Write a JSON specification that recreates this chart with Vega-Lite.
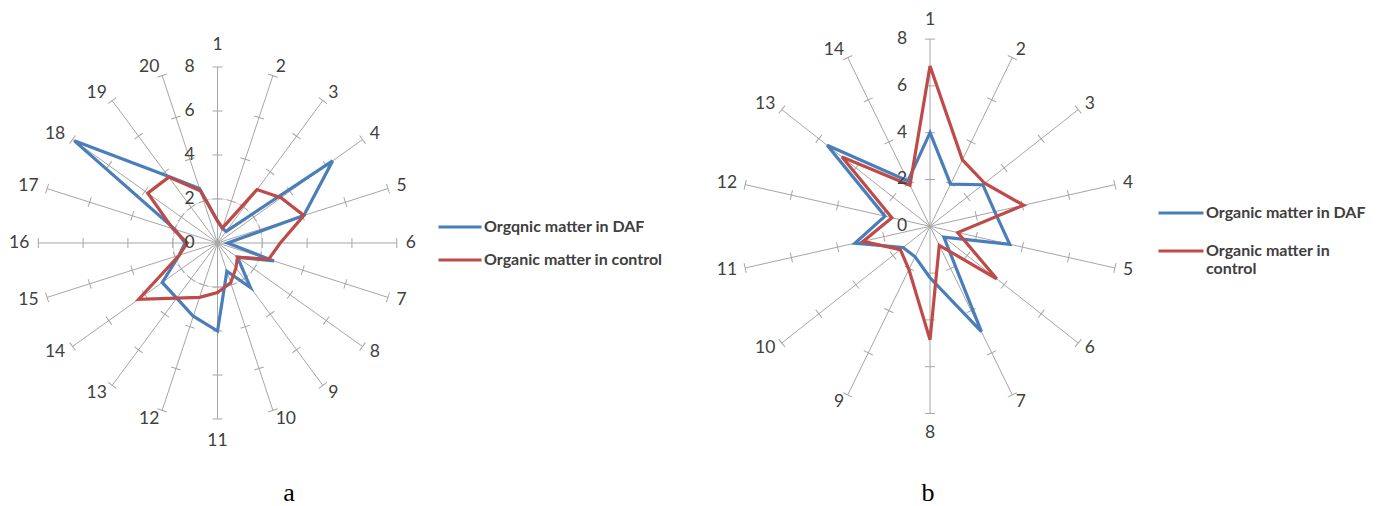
{
  "$schema": "https://vega.github.io/schema/vega-lite/v6.json",
  "padding": 0,
  "background": "white",
  "bounds": "flush",
  "spacing": 0,
  "config": {"view": {"stroke": null}, "font": "Lato"},
  "datasets": {
    "grid": [{"r": 2}],
    "scale_lbl": [{"value": 0}, {"value": 2}, {"value": 4}, {"value": 6}, {"value": 8}],
    "a_axes": [
      {"axis": 1, "ticks": [2, 4, 6, 8]}, {"axis": 2, "ticks": [2, 4, 6, 8]}, {"axis": 3, "ticks": [2, 4, 6, 8]}, {"axis": 4, "ticks": [2, 4, 6, 8]},
      {"axis": 5, "ticks": [2, 4, 6, 8]}, {"axis": 6, "ticks": [2, 4, 6, 8]}, {"axis": 7, "ticks": [2, 4, 6, 8]}, {"axis": 8, "ticks": [2, 4, 6, 8]},
      {"axis": 9, "ticks": [2, 4, 6, 8]}, {"axis": 10, "ticks": [2, 4, 6, 8]}, {"axis": 11, "ticks": [2, 4, 6, 8]}, {"axis": 12, "ticks": [2, 4, 6, 8]},
      {"axis": 13, "ticks": [2, 4, 6, 8]}, {"axis": 14, "ticks": [2, 4, 6, 8]}, {"axis": 15, "ticks": [2, 4, 6, 8]}, {"axis": 16, "ticks": [2, 4, 6, 8]},
      {"axis": 17, "ticks": [2, 4, 6, 8]}, {"axis": 18, "ticks": [2, 4, 6, 8]}, {"axis": 19, "ticks": [2, 4, 6, 8]}, {"axis": 20, "ticks": [2, 4, 6, 8]}
    ],
    "b_axes": [
      {"axis": 1, "ticks": [2, 4, 6, 8]}, {"axis": 2, "ticks": [2, 4, 6, 8]}, {"axis": 3, "ticks": [2, 4, 6, 8]}, {"axis": 4, "ticks": [2, 4, 6, 8]},
      {"axis": 5, "ticks": [2, 4, 6, 8]}, {"axis": 6, "ticks": [2, 4, 6, 8]}, {"axis": 7, "ticks": [2, 4, 6, 8]}, {"axis": 8, "ticks": [2, 4, 6, 8]},
      {"axis": 9, "ticks": [2, 4, 6, 8]}, {"axis": 10, "ticks": [2, 4, 6, 8]}, {"axis": 11, "ticks": [2, 4, 6, 8]}, {"axis": 12, "ticks": [2, 4, 6, 8]},
      {"axis": 13, "ticks": [2, 4, 6, 8]}, {"axis": 14, "ticks": [2, 4, 6, 8]}
    ],
    "a_vals": [
      {"axis": 1, "series": "Orgqnic matter in DAF", "value": 1.0},
      {"axis": 2, "series": "Orgqnic matter in DAF", "value": 0.7},
      {"axis": 3, "series": "Orgqnic matter in DAF", "value": 0.65},
      {"axis": 4, "series": "Orgqnic matter in DAF", "value": 6.35},
      {"axis": 5, "series": "Orgqnic matter in DAF", "value": 4.05},
      {"axis": 6, "series": "Orgqnic matter in DAF", "value": 0.45},
      {"axis": 7, "series": "Orgqnic matter in DAF", "value": 2.65},
      {"axis": 8, "series": "Orgqnic matter in DAF", "value": 1.1},
      {"axis": 9, "series": "Orgqnic matter in DAF", "value": 2.5},
      {"axis": 10, "series": "Orgqnic matter in DAF", "value": 1.35},
      {"axis": 11, "series": "Orgqnic matter in DAF", "value": 4.0},
      {"axis": 12, "series": "Orgqnic matter in DAF", "value": 3.5},
      {"axis": 13, "series": "Orgqnic matter in DAF", "value": 3.1},
      {"axis": 14, "series": "Orgqnic matter in DAF", "value": 3.05},
      {"axis": 15, "series": "Orgqnic matter in DAF", "value": 1.8},
      {"axis": 16, "series": "Orgqnic matter in DAF", "value": 1.45},
      {"axis": 17, "series": "Orgqnic matter in DAF", "value": 2.0},
      {"axis": 18, "series": "Orgqnic matter in DAF", "value": 7.9},
      {"axis": 19, "series": "Orgqnic matter in DAF", "value": 3.75},
      {"axis": 20, "series": "Orgqnic matter in DAF", "value": 2.6},
      {"axis": 1, "series": "Organic matter in control", "value": 1.0},
      {"axis": 2, "series": "Organic matter in control", "value": 0.72},
      {"axis": 3, "series": "Organic matter in control", "value": 3.0},
      {"axis": 4, "series": "Organic matter in control", "value": 3.5},
      {"axis": 5, "series": "Organic matter in control", "value": 4.05},
      {"axis": 6, "series": "Organic matter in control", "value": 2.8},
      {"axis": 7, "series": "Organic matter in control", "value": 2.4},
      {"axis": 8, "series": "Organic matter in control", "value": 1.1},
      {"axis": 9, "series": "Organic matter in control", "value": 1.4},
      {"axis": 10, "series": "Organic matter in control", "value": 1.9},
      {"axis": 11, "series": "Organic matter in control", "value": 2.25},
      {"axis": 12, "series": "Organic matter in control", "value": 2.6},
      {"axis": 13, "series": "Organic matter in control", "value": 3.1},
      {"axis": 14, "series": "Organic matter in control", "value": 4.35},
      {"axis": 15, "series": "Organic matter in control", "value": 1.8},
      {"axis": 16, "series": "Organic matter in control", "value": 1.35},
      {"axis": 17, "series": "Organic matter in control", "value": 2.1},
      {"axis": 18, "series": "Organic matter in control", "value": 3.85},
      {"axis": 19, "series": "Organic matter in control", "value": 3.7},
      {"axis": 20, "series": "Organic matter in control", "value": 2.5}
    ],
    "b_vals": [
      {"axis": 1, "series": "Organic matter in DAF", "value": 4.0},
      {"axis": 2, "series": "Organic matter in DAF", "value": 2.0},
      {"axis": 3, "series": "Organic matter in DAF", "value": 2.85},
      {"axis": 4, "series": "Organic matter in DAF", "value": 2.8},
      {"axis": 5, "series": "Organic matter in DAF", "value": 3.45},
      {"axis": 6, "series": "Organic matter in DAF", "value": 0.75},
      {"axis": 7, "series": "Organic matter in DAF", "value": 5.0},
      {"axis": 8, "series": "Organic matter in DAF", "value": 2.2},
      {"axis": 9, "series": "Organic matter in DAF", "value": 1.45},
      {"axis": 10, "series": "Organic matter in DAF", "value": 1.45},
      {"axis": 11, "series": "Organic matter in DAF", "value": 3.25},
      {"axis": 12, "series": "Organic matter in DAF", "value": 1.95},
      {"axis": 13, "series": "Organic matter in DAF", "value": 5.55},
      {"axis": 14, "series": "Organic matter in DAF", "value": 2.15},
      {"axis": 1, "series": "Organic matter in control", "value": 6.85},
      {"axis": 2, "series": "Organic matter in control", "value": 3.15},
      {"axis": 3, "series": "Organic matter in control", "value": 2.95},
      {"axis": 4, "series": "Organic matter in control", "value": 4.05},
      {"axis": 5, "series": "Organic matter in control", "value": 1.2},
      {"axis": 6, "series": "Organic matter in control", "value": 3.6},
      {"axis": 7, "series": "Organic matter in control", "value": 0.9},
      {"axis": 8, "series": "Organic matter in control", "value": 4.85},
      {"axis": 9, "series": "Organic matter in control", "value": 2.05},
      {"axis": 10, "series": "Organic matter in control", "value": 1.6},
      {"axis": 11, "series": "Organic matter in control", "value": 2.9},
      {"axis": 12, "series": "Organic matter in control", "value": 1.65},
      {"axis": 13, "series": "Organic matter in control", "value": 4.75},
      {"axis": 14, "series": "Organic matter in control", "value": 1.95}
    ]
  },
  "hconcat": [
    {
      "width": 690,
      "height": 470,
      "title": {"text": "a", "orient": "bottom", "anchor": "middle", "dx": -56, "offset": 10, "font": "Liberation Serif", "fontSize": 26, "fontWeight": "normal", "color": "#000000"},
      "encoding": {
        "x": {"field": "px", "type": "quantitative", "scale": {"domain": [-9.71, 21.09], "nice": false, "zero": false}, "axis": null},
        "y": {"field": "py", "type": "quantitative", "scale": {"domain": [-10.318, 11.045], "nice": false, "zero": false}, "axis": null}
      },
      "layer": [
        {
          "data": {"name": "grid"},
          "transform": [{"calculate": "0", "as": "px"}, {"calculate": "0", "as": "py"}],
          "mark": {"type": "point", "shape": "circle", "filled": false, "stroke": "#d9d9d9", "strokeWidth": 1, "opacity": 1, "size": 7885}
        },
        {
          "data": {"name": "a_axes"},
          "transform": [
            {"calculate": "(datum.axis - 1) * 2 * PI / 20", "as": "ang"},
            {"calculate": "0", "as": "px"}, {"calculate": "0", "as": "py"},
            {"calculate": "8 * sin(datum.ang)", "as": "ex"},
            {"calculate": "8 * cos(datum.ang)", "as": "ey"}
          ],
          "mark": {"type": "rule", "color": "#a6a6a6", "strokeWidth": 1},
          "encoding": {"x2": {"field": "ex"}, "y2": {"field": "ey"}}
        },
        {
          "data": {"name": "a_axes"},
          "transform": [
            {"flatten": ["ticks"], "as": ["t"]},
            {"calculate": "(datum.axis - 1) * 2 * PI / 20", "as": "ang"},
            {"calculate": "datum.t * sin(datum.ang)", "as": "px"},
            {"calculate": "datum.t * cos(datum.ang)", "as": "py"},
            {"calculate": "(datum.axis - 1) * 18", "as": "deg"}
          ],
          "mark": {"type": "point", "shape": "M-1,0H1", "filled": false, "stroke": "#a6a6a6", "strokeWidth": 1, "opacity": 1, "size": 100},
          "encoding": {"angle": {"field": "deg", "type": "quantitative", "scale": null}}
        },
        {
          "data": {"name": "a_vals"},
          "transform": [
            {"calculate": "(datum.axis - 1) * 2 * PI / 20", "as": "ang"},
            {"calculate": "datum.value * sin(datum.ang)", "as": "px"},
            {"calculate": "datum.value * cos(datum.ang)", "as": "py"}
          ],
          "mark": {"type": "line", "interpolate": "linear-closed", "strokeWidth": 3.2},
          "encoding": {
            "color": {
              "field": "series", "type": "nominal",
              "scale": {"domain": ["Orgqnic matter in DAF", "Organic matter in control"], "range": ["#4a7ebb", "#be4b48"]},
              "legend": {"title": null, "orient": "none", "legendX": 437, "legendY": 204, "symbolType": "stroke", "symbolSize": 1849, "symbolStrokeWidth": 3, "labelFont": "Lato", "labelFontSize": 16, "labelFontWeight": "bold", "labelColor": "#404040", "labelLimit": 0, "rowPadding": 2, "labelOffset": 1, "padding": 0}
            },
            "order": {"field": "axis", "type": "quantitative"}
          }
        },
        {
          "data": {"name": "a_axes"},
          "transform": [
            {"calculate": "(datum.axis - 1) * 2 * PI / 20", "as": "ang"},
            {"calculate": "abs(sin(datum.ang)) <= 0.1 ? 8.6 : 8.4", "as": "lr"},
            {"calculate": "datum.lr * sin(datum.ang)", "as": "px"},
            {"calculate": "datum.lr * cos(datum.ang)", "as": "py"}
          ],
          "mark": {"type": "text", "font": "Lato", "fontSize": 17.5, "color": "#404040",
            "align": {"expr": "sin(datum.ang) > 0.1 ? 'left' : (sin(datum.ang) < -0.1 ? 'right' : 'center')"},
            "baseline": {"expr": "abs(sin(datum.ang)) <= 0.1 ? (cos(datum.ang) > 0 ? 'bottom' : 'top') : 'middle'"}},
          "encoding": {"text": {"field": "axis", "type": "nominal"}}
        },
        {
          "data": {"name": "scale_lbl"},
          "transform": [{"calculate": "0", "as": "px"}, {"calculate": "datum.value", "as": "py"}],
          "mark": {"type": "text", "font": "Lato", "fontSize": 17.5, "color": "#404040", "align": "center", "baseline": "middle", "dx": -28},
          "encoding": {"text": {"field": "value", "type": "nominal"}}
        }
      ]
    },
    {
      "width": 695,
      "height": 470,
      "title": {"text": "b", "orient": "bottom", "anchor": "middle", "dx": -109.5, "offset": 10, "font": "Liberation Serif", "fontSize": 26, "fontWeight": "normal", "color": "#000000"},
      "encoding": {
        "x": {"field": "px", "type": "quantitative", "scale": {"domain": [-10.127, 19.198], "nice": false, "zero": false}, "axis": null},
        "y": {"field": "py", "type": "quantitative", "scale": {"domain": [-10.415, 9.671], "nice": false, "zero": false}, "axis": null}
      },
      "layer": [
        {
          "data": {"name": "b_axes"},
          "transform": [
            {"calculate": "(datum.axis - 1) * 2 * PI / 14", "as": "ang"},
            {"calculate": "0", "as": "px"}, {"calculate": "0", "as": "py"},
            {"calculate": "8 * sin(datum.ang)", "as": "ex"},
            {"calculate": "8 * cos(datum.ang)", "as": "ey"}
          ],
          "mark": {"type": "rule", "color": "#a6a6a6", "strokeWidth": 1},
          "encoding": {"x2": {"field": "ex"}, "y2": {"field": "ey"}}
        },
        {
          "data": {"name": "b_axes"},
          "transform": [
            {"flatten": ["ticks"], "as": ["t"]},
            {"calculate": "(datum.axis - 1) * 2 * PI / 14", "as": "ang"},
            {"calculate": "datum.t * sin(datum.ang)", "as": "px"},
            {"calculate": "datum.t * cos(datum.ang)", "as": "py"},
            {"calculate": "(datum.axis - 1) * 360 / 14", "as": "deg"}
          ],
          "mark": {"type": "point", "shape": "M-1,0H1", "filled": false, "stroke": "#a6a6a6", "strokeWidth": 1, "opacity": 1, "size": 100},
          "encoding": {"angle": {"field": "deg", "type": "quantitative", "scale": null}}
        },
        {
          "data": {"name": "b_vals"},
          "transform": [
            {"calculate": "(datum.axis - 1) * 2 * PI / 14", "as": "ang"},
            {"calculate": "datum.value * sin(datum.ang)", "as": "px"},
            {"calculate": "datum.value * cos(datum.ang)", "as": "py"}
          ],
          "mark": {"type": "line", "interpolate": "linear-closed", "strokeWidth": 3.2},
          "encoding": {
            "color": {
              "field": "series", "type": "nominal",
              "scale": {"domain": ["Organic matter in DAF", "Organic matter in control"], "range": ["#4a7ebb", "#be4b48"]},
              "legend": {"title": null, "orient": "none", "legendX": 467, "legendY": 189, "symbolType": "stroke", "symbolSize": 2025, "symbolStrokeWidth": 3, "labelFont": "Lato", "labelFontSize": 16, "labelFontWeight": "bold", "labelColor": "#404040", "labelLimit": 0, "rowPadding": 6, "labelOffset": 1, "padding": 0,
                "labelExpr": "datum.label == 'Organic matter in control' ? ['Organic matter in', 'control'] : datum.label"}
            },
            "order": {"field": "axis", "type": "quantitative"}
          }
        },
        {
          "data": {"name": "b_axes"},
          "transform": [
            {"calculate": "(datum.axis - 1) * 2 * PI / 14", "as": "ang"},
            {"calculate": "abs(sin(datum.ang)) <= 0.1 ? 8.45 : 8.35", "as": "lr"},
            {"calculate": "datum.lr * sin(datum.ang)", "as": "px"},
            {"calculate": "datum.lr * cos(datum.ang)", "as": "py"}
          ],
          "mark": {"type": "text", "font": "Lato", "fontSize": 17.5, "color": "#404040",
            "align": {"expr": "sin(datum.ang) > 0.1 ? 'left' : (sin(datum.ang) < -0.1 ? 'right' : 'center')"},
            "baseline": {"expr": "abs(sin(datum.ang)) <= 0.1 ? (cos(datum.ang) > 0 ? 'bottom' : 'top') : 'middle'"}},
          "encoding": {"text": {"field": "axis", "type": "nominal"}}
        },
        {
          "data": {"name": "scale_lbl"},
          "transform": [{"calculate": "0", "as": "px"}, {"calculate": "datum.value", "as": "py"}],
          "mark": {"type": "text", "font": "Lato", "fontSize": 17.5, "color": "#404040", "align": "center", "baseline": "middle", "dx": -28},
          "encoding": {"text": {"field": "value", "type": "nominal"}}
        }
      ]
    }
  ],
  "resolve": {"scale": {"color": "independent"}, "legend": {"color": "independent"}}
}
